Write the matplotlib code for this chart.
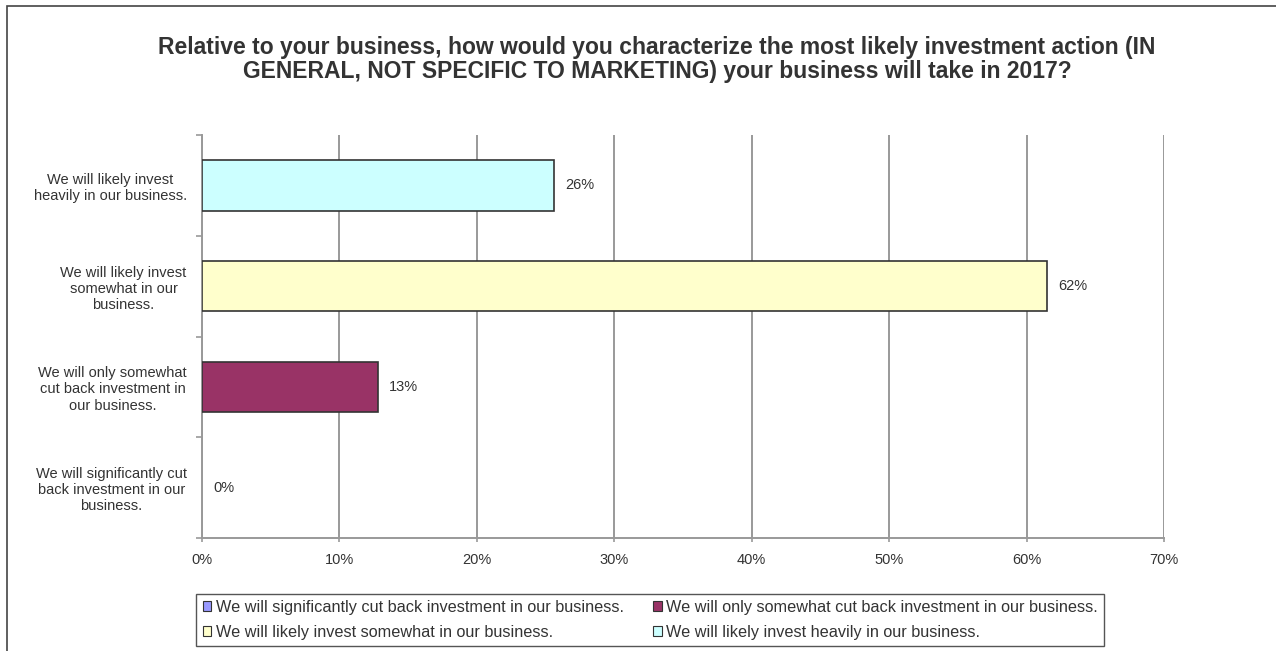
import matplotlib.pyplot as plt
from matplotlib.patches import Patch, Rectangle

plt.rcParams['font.family'] = ['Liberation Sans', 'DejaVu Sans']

# Survey answers (top to bottom as shown)
answers = [
    "We will likely invest heavily in our business.",
    "We will likely invest somewhat in our business.",
    "We will only somewhat cut back investment in our business.",
    "We will significantly cut back investment in our business.",
]
axis_labels = [
    "We will likely invest\nheavily in our business.",
    "We will likely invest\nsomewhat in our\nbusiness.",
    "We will only somewhat\ncut back investment in\nour business.",
    "We will significantly cut\nback investment in our\nbusiness.",
]
shares = [25.6, 61.5, 12.8, 0.0]
colors = ["#CCFFFF", "#FFFFCC", "#993366", "#9999FF"]

xticks = [0, 10, 20, 30, 40, 50, 60, 70]

title = ("Relative to your business, how would you characterize the most likely investment action (IN\n"
         "GENERAL, NOT SPECIFIC TO MARKETING) your business will take in 2017?")

txt = "#333333"
grid_c = "#999999"

fig = plt.figure(figsize=(12.76, 6.51), dpi=100)
W, H = 1276, 651

# outer frame (only the left and top edges fall inside the image)
fig.patches.append(Rectangle((7 / W, -0.1), 1.2, 1 - 6 / H + 0.1, transform=fig.transFigure,
                             fill=False, edgecolor="#444444", linewidth=1.2))

ax = fig.add_axes([202 / W, 1 - 538 / H, (1164 - 202) / W, (538 - 135) / H])

ypos = list(range(len(shares)))
bars = ax.barh(ypos, shares, height=0.5, color=colors, edgecolor="#333333", linewidth=1.2, zorder=3)
for b, v in zip(bars, shares):
    if v == 0:
        b.set_linewidth(0)

for y, v in zip(ypos, shares):
    ax.annotate(f"{v:.0f}%", (v, y), xytext=(8, 0), textcoords="offset points",
                ha="left", va="center", fontsize=10.5, color=txt)

ax.set_xlim(0, 70)
ax.set_ylim(len(shares) - 0.5, -0.5)
ax.set_xticks(xticks)
ax.set_xticklabels([f"{t}%" for t in xticks], fontsize=10.5, color=txt)
ax.set_yticks(ypos)
ax.set_yticklabels(axis_labels, fontsize=10.5, color=txt, multialignment="center")
ax.set_yticks([y - 0.5 for y in ypos] + [len(shares) - 0.5], minor=True)

ax.tick_params(axis="y", which="major", length=0, pad=11)
ax.tick_params(axis="y", which="minor", length=4, color=grid_c, width=1.2)
ax.tick_params(axis="x", length=3, color=grid_c, width=1.2, pad=8)

ax.xaxis.grid(True, color=grid_c, linewidth=1.4, zorder=0)
ax.set_axisbelow(True)
for side in ("top", "right"):
    ax.spines[side].set_visible(False)
for side in ("left", "bottom"):
    ax.spines[side].set_color(grid_c)
    ax.spines[side].set_linewidth(1.4)

fig.text(0.515, 1 - 59.5 / H, title, ha="center", va="center", fontsize=16.5,
         fontweight="bold", color=txt, linespacing=1.1)

# legend: row 1 = cut backs, row 2 = invest
order = [3, 1, 2, 0]
handles = [Patch(facecolor=colors[i], edgecolor="#333333", linewidth=0.8) for i in order]
leg = fig.legend(handles, [answers[i] for i in order], ncol=2, loc="center",
                 bbox_to_anchor=(650 / W, 1 - 620 / H), fontsize=11.7, frameon=True,
                 fancybox=False, edgecolor="#555555", framealpha=1,
                 handlelength=0.55, handleheight=0.55, handletextpad=0.25,
                 columnspacing=1.8, labelspacing=0.6, borderpad=0.4, borderaxespad=0)
leg.get_frame().set_linewidth(1.0)
for t in leg.get_texts():
    t.set_color(txt)

fig.savefig("out.png", dpi=100)
